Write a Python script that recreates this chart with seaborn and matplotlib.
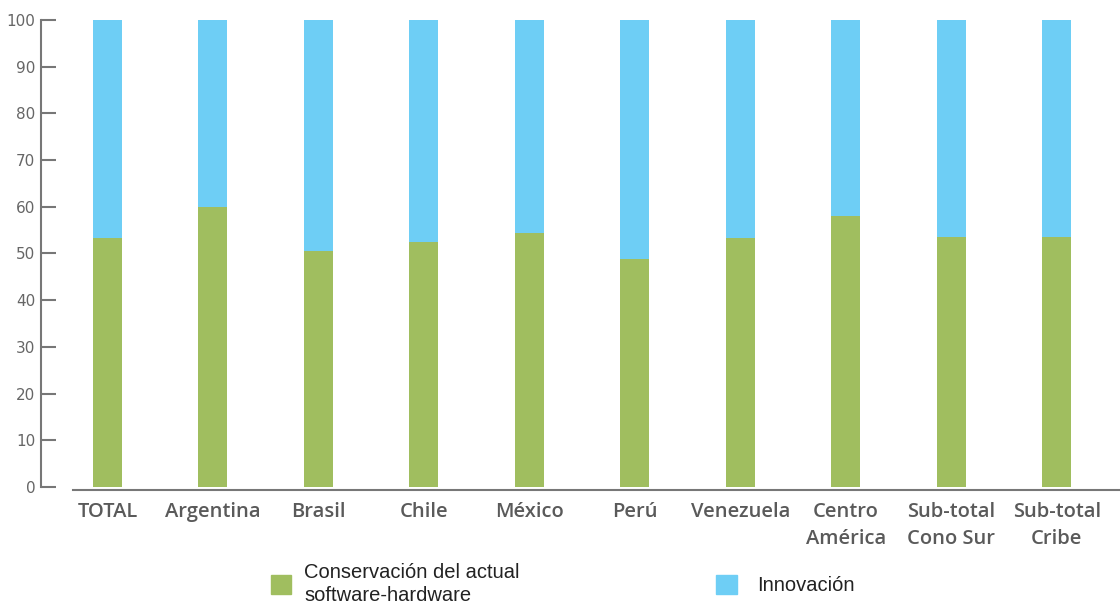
import pandas as pd
import matplotlib
matplotlib.use('Agg')
import matplotlib.pyplot as plt
import matplotlib.patches as mpatches
import seaborn as sns

sns.set_style('white')
plt.rcParams['font.family'] = ['Open Sans', 'DejaVu Sans']

paises = ['TOTAL', 'Argentina', 'Brasil', 'Chile', 'México', 'Perú',
          'Venezuela', 'Centro\nAmérica', 'Sub-total\nCono Sur', 'Sub-total\nCribe']
conservacion = [53.3, 60.0, 50.5, 52.5, 54.4, 48.9, 53.3, 58.0, 53.6, 53.6]
innovacion = [46.7, 40.0, 49.5, 47.5, 45.6, 51.1, 46.7, 42.0, 46.4, 46.4]

verde = '#A0BE5F'
azul = '#6ECEF5'
gris = '#777777'

df = pd.DataFrame({'pais': paises, 'cons': conservacion, 'innov': innovacion})
df['total'] = df['cons'] + df['innov']

fig = plt.figure(figsize=(11.2, 6.05), dpi=100)
ax = fig.add_axes([0.0366, 0.195, 0.9634, 0.772])

# barras apiladas: primero el total (azul) y encima la parte verde
sns.barplot(data=df, x='pais', y='total', color=azul, width=0.275,
            saturation=1, ax=ax, errorbar=None, linewidth=0)
sns.barplot(data=df, x='pais', y='cons', color=verde, width=0.275,
            saturation=1, ax=ax, errorbar=None, linewidth=0)

ax.set_xlim(-0.63, 9.6)
ax.set_ylim(0, 100)
ax.set_yticks(range(0, 101, 10))
ax.set_xlabel('')
ax.set_ylabel('')

for s in ['top', 'right']:
    ax.spines[s].set_visible(False)
for s in ['left', 'bottom']:
    ax.spines[s].set_color(gris)
    ax.spines[s].set_linewidth(1.5)
ax.spines['bottom'].set_bounds(-0.33, 9.6)
ax.spines['bottom'].set_position(('outward', 2))

ax.tick_params(axis='y', direction='in', length=11, width=1.5, color=gris,
               labelcolor='#666666', labelsize=11, pad=4, left=True)
ax.tick_params(axis='x', length=0, pad=9, labelcolor='#5a5a5a', labelsize=14.5)
for lab in ax.get_xticklabels():
    lab.set_fontweight('semibold')
    lab.set_linespacing(1.45)
for lab in ax.get_yticklabels():
    lab.set_family(['Liberation Sans Narrow', 'DejaVu Sans'])

# leyenda en dos bloques separados
h1 = mpatches.Patch(color=verde, label='Conservación del actual\nsoftware-hardware')
h2 = mpatches.Patch(color=azul, label='Innovación')
fuente = {'family': ['Liberation Sans', 'DejaVu Sans'], 'size': 14.5}
leg1 = fig.legend(handles=[h1], loc='center left', bbox_to_anchor=(0.226, 0.035),
                  frameon=False, prop=fuente, handlelength=1.0, handleheight=1.05,
                  handletextpad=0.65, labelcolor='#222222')
for t in leg1.get_texts():
    t.set_linespacing(1.3)
fig.legend(handles=[h2], loc='center left', bbox_to_anchor=(0.6235, 0.033),
           frameon=False, prop=fuente, handlelength=1.0, handleheight=1.05,
           handletextpad=1.0, labelcolor='#222222')

fig.savefig('out.png', dpi=100, facecolor='white')
